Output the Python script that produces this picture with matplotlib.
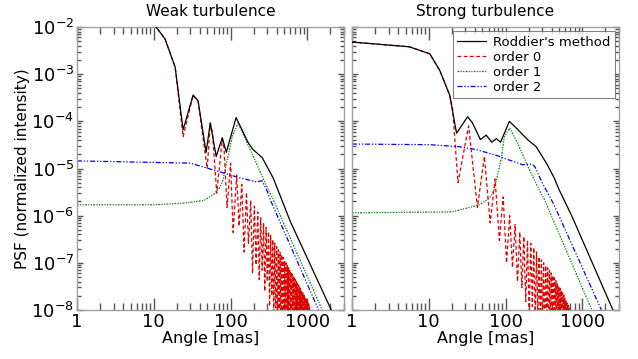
import matplotlib
matplotlib.use('Agg')
import matplotlib.pyplot as plt
from matplotlib import ticker
import numpy as np

# ---- weak turbulence (angles in mas, PSF values) ----
weak_roddier_ang = [8, 10.7, 14.0, 19.0, 24.1, 32.5, 37.8, 48, 54.4, 65, 78, 88, 118,
                    141, 170, 197, 258, 359, 600, 2050]
weak_roddier_val = [1.9e-2, 1.0e-2, 5.6e-3, 1.4e-3, 6.6e-5, 3.6e-4, 2.7e-4, 2.2e-5, 9.3e-5,
                    1.8e-5, 4.5e-5, 2.2e-5, 1.2e-4, 6.6e-5, 3.5e-5, 2.5e-5, 1.7e-5, 6.3e-6,
                    7.5e-7, 1.0e-8]

weak_o0_ang = [8, 10.7, 14.0, 19.0, 24.1, 32.5, 37.8, 49.6, 54.4, 58, 66, 78, 82, 90,
               100, 108, 120, 129, 140, 150, 161, 171, 183, 193, 204, 215, 226, 236,
               247, 258, 269, 279, 290, 301, 312, 322, 333, 344, 355, 365, 376, 387,
               398, 408, 419, 430, 441, 451, 462, 473, 484, 494, 505, 516, 527, 537,
               548, 559, 570, 580, 591, 602, 613, 623, 634, 645, 656, 666, 677, 688,
               699, 709, 720, 731, 742, 752, 763, 774, 785, 795, 806, 817, 828, 838,
               849, 860, 871, 881, 892, 903, 914, 924, 935, 946, 957, 967, 978, 989,
               1000, 1010, 1021, 1032, 1043, 1053, 1064, 1075, 1086]
weak_o0_val = [1.9e-2, 1.0e-2, 5.6e-3, 1.4e-3, 4.7e-5, 3.6e-4, 2.6e-4, 1.0e-5, 9.0e-5,
               6.0e-5, 3.0e-6, 4.2e-5, 2.8e-5, 1.5e-6, 1.3e-5, 4.4e-7, 7.3e-6, 6.0e-7,
               4.6e-6, 1.7e-7, 3.1e-6, 2.5e-7, 2.1e-6, 6.0e-8, 1.6e-6, 9.0e-8, 1.2e-6,
               4.4e-8, 9.0e-7, 7.0e-8, 7.0e-7, 2.5e-8, 5.6e-7, 4.0e-8, 4.6e-7, 1.2e-8,
               3.8e-7, 2.0e-8, 3.1e-7, 8.0e-9, 2.6e-7, 1.1e-8, 2.2e-7, 6.0e-9, 1.9e-7,
               9.0e-9, 1.7e-7, 5.0e-9, 1.5e-7, 7.0e-9, 1.3e-7, 4.0e-9, 1.1e-7, 6.0e-9,
               1.0e-7, 4.0e-9, 8.9e-8, 5.0e-9, 7.9e-8, 3.0e-9, 7.1e-8, 5.0e-9, 6.4e-8,
               3.0e-9, 5.8e-8, 4.0e-9, 5.3e-8, 3.0e-9, 4.8e-8, 4.0e-9, 4.4e-8, 3.0e-9,
               4.0e-8, 3.0e-9, 3.7e-8, 3.0e-9, 3.4e-8, 3.0e-9, 3.1e-8, 3.0e-9, 2.9e-8,
               3.0e-9, 2.7e-8, 3.0e-9, 2.5e-8, 3.0e-9, 2.3e-8, 3.0e-9, 2.2e-8, 3.0e-9,
               2.0e-8, 3.0e-9, 1.9e-8, 3.0e-9, 1.8e-8, 3.0e-9, 1.65e-8, 3.0e-9, 1.55e-8,
               3.0e-9, 1.4e-8, 3.0e-9, 1.3e-8, 3.0e-9, 1.2e-8, 3.0e-9, 1.0e-8]

weak_o1_ang = [1, 10, 25, 45, 60, 67, 73, 80, 90, 105, 125, 180, 300, 359, 1560]
weak_o1_val = [1.7e-6, 1.7e-6, 1.85e-6, 2.1e-6, 2.8e-6, 3.5e-6, 4.0e-6, 5.8e-6, 1.5e-5,
               4.7e-5, 9.3e-5, 2.5e-5, 4.0e-6, 2.2e-6, 1.0e-8]

weak_o2_ang = [1, 8.9, 29.7, 80, 133, 221, 257, 300, 328, 1400]
weak_o2_val = [1.45e-5, 1.35e-5, 1.3e-5, 8.1e-6, 6.3e-6, 5.2e-6, 5.5e-6, 3.3e-6, 2.2e-6, 1.0e-8]

# ---- strong turbulence ----
strong_roddier_ang = [1, 5.6, 10.3, 13.9, 18.7, 23, 32, 37, 47, 56, 66, 76, 86, 112, 138,
                      193, 250, 340, 430, 500, 740, 2500]
strong_roddier_val = [4.8e-3, 3.8e-3, 2.7e-3, 1.2e-3, 3.6e-4, 5.6e-5, 1.25e-4, 9.3e-5,
                      4.1e-5, 5.1e-5, 3.6e-5, 4.3e-5, 3.6e-5, 1.0e-4, 7.2e-5, 4.1e-5,
                      2.9e-5, 1.3e-5, 6.3e-6, 3.5e-6, 9.3e-7, 1.0e-8]

strong_o0_ang = [1, 5.6, 10.3, 13.9, 18.7, 20.4, 24, 33, 43, 53, 63, 73, 83, 93, 103,
                 113, 123, 133, 143, 153, 163, 173, 183, 193, 203, 213, 223, 233, 243,
                 253, 263, 273, 283, 293, 303, 313, 323, 333, 343, 353, 363, 373, 383,
                 393, 403, 413, 423, 433, 443, 453, 463, 473, 483, 493, 503, 513, 523,
                 533, 543, 553, 563, 573, 583, 593, 603, 613, 623, 633, 643, 653, 663,
                 673, 683, 693]
strong_o0_val = [4.8e-3, 3.8e-3, 2.7e-3, 1.2e-3, 3.6e-4, 1.9e-4, 5.0e-6, 8.0e-5, 1.5e-6,
                 1.8e-5, 7.0e-7, 6.0e-6, 3.0e-7, 2.5e-6, 1.0e-7, 1.0e-6, 8.0e-8, 6.5e-7,
                 4.0e-8, 4.5e-7, 3.0e-8, 3.6e-7, 1.5e-8, 3.0e-7, 8.0e-9, 2.6e-7, 1.2e-8,
                 2.1e-7, 5.0e-9, 1.7e-7, 8.0e-9, 1.35e-7, 4.0e-9, 1.15e-7, 6.0e-9,
                 1.0e-7, 3.0e-9, 8.8e-8, 5.0e-9, 7.8e-8, 3.0e-9, 6.9e-8, 4.0e-9, 6.1e-8,
                 3.0e-9, 5.4e-8, 3.0e-9, 4.8e-8, 3.0e-9, 4.2e-8, 3.0e-9, 3.7e-8, 3.0e-9,
                 3.2e-8, 3.0e-9, 2.9e-8, 3.0e-9, 2.6e-8, 3.0e-9, 2.3e-8, 3.0e-9, 2.05e-8,
                 3.0e-9, 1.8e-8, 3.0e-9, 1.6e-8, 3.0e-9, 1.4e-8, 3.0e-9, 1.25e-8, 3.0e-9,
                 1.1e-8, 3.0e-9, 1.0e-8]

strong_o1_ang = [1, 20, 46, 62, 70, 76, 89, 96, 113, 143, 205, 275, 320, 1330]
strong_o1_val = [1.15e-6, 1.2e-6, 1.7e-6, 2.4e-6, 3.3e-6, 5.7e-6, 1.8e-5, 4.7e-5, 7.2e-5,
                 3.5e-5, 9.3e-6, 3.5e-6, 2.2e-6, 1.0e-8]

strong_o2_ang = [1, 10.3, 25, 42, 76, 91, 167, 218, 240, 300, 420, 1770]
strong_o2_val = [3.3e-5, 3.2e-5, 2.9e-5, 2.5e-5, 1.9e-5, 1.7e-5, 1.2e-5, 1.25e-5, 1.1e-5,
                 5.0e-6, 1.8e-6, 1.0e-8]

titles = ['Weak turbulence', 'Strong turbulence']
labels = ["Roddier's method", 'order 0', 'order 1', 'order 2']

panels = [
    (weak_roddier_ang, weak_roddier_val, weak_o0_ang, weak_o0_val,
     weak_o1_ang, weak_o1_val, weak_o2_ang, weak_o2_val),
    (strong_roddier_ang, strong_roddier_val, strong_o0_ang, strong_o0_val,
     strong_o1_ang, strong_o1_val, strong_o2_ang, strong_o2_val),
]

fig = plt.figure(figsize=(6.38, 3.59), dpi=100)
ax1 = fig.add_axes([77 / 638, 1 - 310 / 359, 267 / 638, 283 / 359])
ax2 = fig.add_axes([352 / 638, 1 - 310 / 359, 267 / 638, 283 / 359])

for ax, title, data in zip((ax1, ax2), titles, panels):
    r_a, r_v, a0, v0, a1, v1, a2, v2 = data
    ax.plot(r_a, r_v, color='black', lw=0.9, label=labels[0], zorder=4)
    ax.plot(a0, v0, color='#e00000', lw=0.9, dashes=(3, 2), label=labels[1], zorder=3)
    ax.plot(a1, v1, color='#1a7f1a', lw=0.9, dashes=(1.5, 1, 1, 1, 1, 1), label=labels[2])
    ax.plot(a2, v2, color='#0000ee', lw=0.9, dashes=(4, 1.5, 1, 1.5, 1, 1.5), label=labels[3])
    ax.set_xscale('log')
    ax.set_yscale('log')
    ax.set_xlim(1, 3000)
    ax.set_ylim(1e-8, 1e-2)
    ax.set_title(title, fontsize=11, pad=8)
    ax.set_xlabel('Angle [mas]', fontsize=11.5, labelpad=0)
    for s in ax.spines.values():
        s.set_color('#a0a0a0')
        s.set_linewidth(1.0)
    ax.xaxis.set_major_locator(ticker.LogLocator(base=10, numticks=10))
    ax.xaxis.set_minor_locator(ticker.LogLocator(base=10, subs=np.arange(2, 10), numticks=20))
    ax.yaxis.set_major_locator(ticker.LogLocator(base=10, numticks=10))
    ax.yaxis.set_minor_locator(ticker.LogLocator(base=10, subs=np.arange(2, 10), numticks=20))
    ax.xaxis.set_major_formatter(ticker.FuncFormatter(lambda v, p: '%d' % round(v)))
    ax.tick_params(axis='both', which='both', direction='in', top=True, right=True,
                   color='#555555', width=1.0, labelcolor='black')
    ax.tick_params(axis='x', which='major', length=9, pad=2, labelsize=13)
    ax.tick_params(axis='x', which='minor', length=5)
    ax.tick_params(axis='y', which='major', length=4.5, pad=2, labelsize=13)
    ax.tick_params(axis='y', which='minor', length=3)

ax1.set_ylabel('PSF (normalized intensity)', fontsize=11, labelpad=1)
ax2.tick_params(axis='y', which='both', labelleft=False)

leg = ax2.legend(loc='upper right', fontsize=9.5, frameon=True, fancybox=False,
                 handlelength=2.2, handletextpad=0.5, labelspacing=0.15,
                 borderaxespad=0.3, borderpad=0.35)
leg.get_frame().set_edgecolor('#606060')
leg.get_frame().set_linewidth(0.8)

fig.savefig('out.png', dpi=100)
